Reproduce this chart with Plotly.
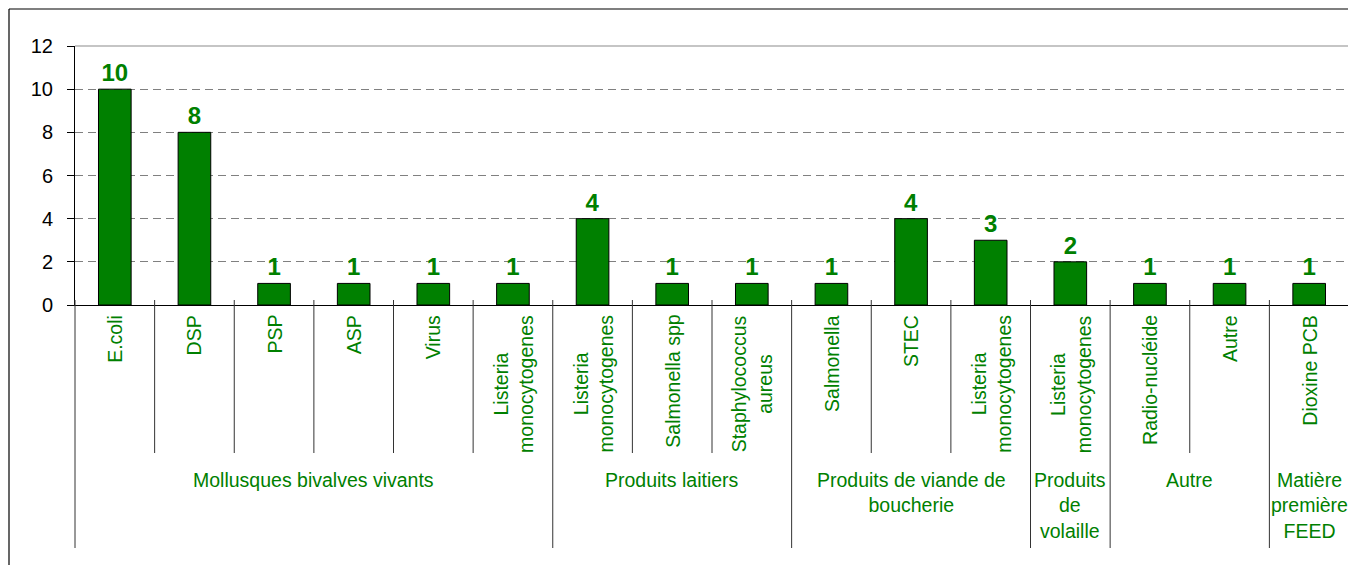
import plotly.graph_objects as go

categories = ["E.coli", "DSP", "PSP", "ASP", "Virus", "Listeria<br>monocytogenes",
              "Listeria<br>monocytogenes", "Salmonella spp", "Staphylococcus<br>aureus",
              "Salmonella", "STEC", "Listeria<br>monocytogenes",
              "Listeria<br>monocytogenes",
              "Radio-nucléide", "Autre",
              "Dioxine PCB"]
groups = ["Mollusques bivalves vivants"] * 6 + ["Produits laitiers"] * 3 + \
         ["Produits de viande de boucherie"] * 3 + ["Produits de volaille"] + \
         ["Autre"] * 2 + ["Matière première FEED"]
group_labels = {
    "Mollusques bivalves vivants": "Mollusques bivalves vivants",
    "Produits laitiers": "Produits laitiers",
    "Produits de viande de boucherie": "Produits de viande de<br>boucherie",
    "Produits de volaille": "Produits<br>de<br>volaille",
    "Autre": "Autre",
    "Matière première FEED": "Matière<br>première<br>FEED",
}
values = [10, 8, 1, 1, 1, 1, 4, 1, 1, 1, 4, 3, 2, 1, 1, 1]
y_ticks = [0, 2, 4, 6, 8, 10, 12]

GREEN = "#008000"
FONT = "Liberation Sans, Arial, sans-serif"

x = list(range(len(values)))

fig = go.Figure()
fig.add_trace(go.Bar(
    x=x, y=values,
    marker=dict(color=GREEN, line=dict(color="black", width=1)),
    width=0.41,
    text=[str(v) for v in values],
    textposition="outside",
    textfont=dict(family=FONT, size=24, color=GREEN, weight="bold"),
    constraintext="none",
    cliponaxis=False,
    hoverinfo="skip",
))

# plot area geometry in paper units (px -> paper)
PLOT_H = 259.0
PLOT_W = 1274.0
def py(px_below_axis):
    return -px_below_axis / PLOT_H

annotations = []
shapes = []

# inner category labels
for i, c in enumerate(categories):
    annotations.append(dict(
        x=i, y=py(8), xref="x", yref="paper",
        text=c, textangle=-90, showarrow=False,
        xanchor="center", yanchor="top", align="center",
        font=dict(family=FONT, size=19.5, color=GREEN),
    ))

# group spans
spans = []
start = 0
for i in range(1, len(groups) + 1):
    if i == len(groups) or groups[i] != groups[start]:
        spans.append((groups[start], start, i - 1))
        start = i

for g, a, b in spans:
    annotations.append(dict(
        x=(a + b) / 2, y=py(162), xref="x", yref="paper",
        text=group_labels[g], showarrow=False,
        xanchor="center", yanchor="top", align="center",
        font=dict(family=FONT, size=19.5, color=GREEN),
    ))

SEP = dict(color="#333333", width=1)
group_bounds = [b + 0.5 for _, _, b in spans[:-1]]
for i in range(len(categories) - 1):
    bx = i + 0.5
    if bx in group_bounds:
        continue
    shapes.append(dict(type="line", xref="x", yref="paper",
                       x0=bx, x1=bx, y0=5 / PLOT_H, y1=py(148), line=SEP))
for bx in group_bounds:
    shapes.append(dict(type="line", xref="x", yref="paper",
                       x0=bx, x1=bx, y0=5 / PLOT_H, y1=py(243), line=SEP))
# outermost group separators at the axis edges
for dx in (0, 1):
    shapes.append(dict(type="line", xref="x domain", yref="paper",
                       x0=dx, x1=dx, y0=5 / PLOT_H, y1=py(243), line=SEP))

# plot area border (top and right, grey)
shapes.append(dict(type="line", xref="paper", yref="paper", x0=0, x1=1, y0=1, y1=1,
                   line=dict(color="#8c8c8c", width=1.2)))
shapes.append(dict(type="line", xref="paper", yref="paper", x0=1, x1=1, y0=0, y1=1,
                   line=dict(color="#8c8c8c", width=1.2)))
# outer chart border (top and left, black)
shapes.append(dict(type="line", xref="paper", yref="paper",
                   x0=-66 / PLOT_W, x1=1.05, y0=296 / PLOT_H, y1=296 / PLOT_H,
                   line=dict(color="black", width=1.2)))
shapes.append(dict(type="line", xref="paper", yref="paper",
                   x0=-66 / PLOT_W, x1=-66 / PLOT_W, y0=296 / PLOT_H, y1=-1.2,
                   line=dict(color="black", width=1.2)))

fig.update_layout(
    width=1348, height=557,
    margin=dict(l=67, r=7, t=38, b=260, autoexpand=False),
    paper_bgcolor="white", plot_bgcolor="white",
    showlegend=False,
    bargap=0.59,
    annotations=annotations,
    shapes=shapes,
    font=dict(family=FONT, color="black"),
)
fig.update_xaxes(
    range=[-0.5, len(values) - 0.5],
    showticklabels=False, ticks="", showgrid=False, zeroline=False,
    showline=True, linecolor="black", linewidth=1,
)
fig.update_yaxes(
    range=[0, 12], tickvals=y_ticks, ticktext=[str(t) for t in y_ticks],
    ticks="outside", ticklen=7, tickcolor="black", tickwidth=1,
    showline=True, linecolor="black", linewidth=1,
    showgrid=True, gridcolor="#808080", griddash="8px,5px", gridwidth=1,
    zeroline=False,
    ticklabelstandoff=10,
    tickfont=dict(family=FONT, size=20, color="black"),
)

fig.write_html("out.html")
